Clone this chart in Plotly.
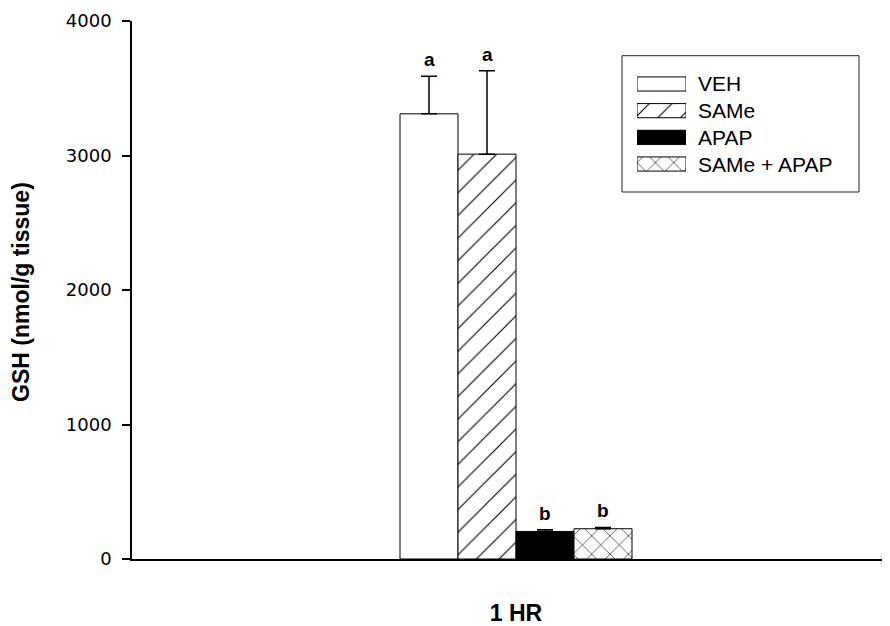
import plotly.graph_objects as go

# ---- data ----
groups = ["VEH", "SAMe", "APAP", "SAMe + APAP"]
means = [3310, 3010, 205, 225]
sems = [280, 620, 13, 10]
letters = ["a", "a", "b", "b"]
time_label = "1 HR"
y_ticks = [0, 1000, 2000, 3000, 4000]

# ---- styles ----
fills = ["white", "white", "black", "white"]
patterns = ["", "/", "", "x"]
pat_sizes = [10, 16, 10, 13]
pat_solid = [0.1, 0.07, 0.1, 0.09]

OFF = 8  # page body margin of the html page
W, H = 890 - OFF, 626 - OFF
L, R, T, B = 132 - OFF, 0, 21 - OFF, 626 - 559
pw, ph = W - L - R, H - T - B
bar_px = 58.0
group_center_px = 516 - 132

pos = list(range(len(groups)))
center = sum(pos) / len(pos)
x0 = center - group_center_px / bar_px
x1 = x0 + pw / bar_px


def px_x(px):  # page pixel -> paper
    return (px - OFF - L) / pw


def px_y(py):
    return (H - B - (py - OFF)) / ph


def make_marker(i, size):
    m = dict(color=fills[i], line=dict(color="black", width=1))
    if patterns[i]:
        m["pattern"] = dict(shape=patterns[i], fgcolor="black", bgcolor="white",
                            size=size, solidity=pat_solid[i], fillmode="replace")
    return m


fig = go.Figure()

for i, g in enumerate(groups):
    fig.add_trace(go.Bar(
        x=[pos[i]], y=[means[i]], width=1, name=g,
        marker=make_marker(i, pat_sizes[i]),
        error_y=dict(type="data", array=[sems[i]], arrayminus=[0],
                     symmetric=False, color="black", thickness=1.5, width=8),
        showlegend=False,
    ))

for p, m, s, t in zip(pos, means, sems, letters):
    fig.add_annotation(x=p, y=m + s, xref="x", yref="y", text=t,
                       showarrow=False, yanchor="bottom", yshift=4,
                       font=dict(family="Liberation Sans", size=19, color="black",
                                 weight="bold"))

# ---- legend drawn as a small overlay subplot ----
leg_sizes = [10, 16, 10, 13]
for i, g in enumerate(groups):
    fig.add_trace(go.Bar(
        x=[1], y=[i], base=0, orientation="h", width=0.53,
        xaxis="x2", yaxis="y2",
        marker=make_marker(i, leg_sizes[i]),
        showlegend=False, hoverinfo="skip",
    ))
    fig.add_annotation(x=px_x(696), y=i, xref="paper", yref="y2", text=g,
                       showarrow=False, xanchor="left", yanchor="middle",
                       font=dict(family="Liberation Sans", size=21, color="black"))

fig.add_shape(type="rect", xref="paper", yref="paper",
              x0=px_x(622), x1=px_x(859), y0=px_y(192), y1=px_y(55.7),
              line=dict(color="#222222", width=1), fillcolor="rgba(0,0,0,0)")

# y-axis title
fig.add_annotation(x=px_x(21), y=px_y(292), xref="paper", yref="paper",
                   text="GSH (nmol/g tissue)", textangle=-90, showarrow=False,
                   xanchor="center", yanchor="middle",
                   font=dict(family="Liberation Sans", size=23, color="black",
                             weight="bold"))

fig.update_layout(
    width=W, height=H,
    margin=dict(l=L, r=R, t=T, b=B, pad=0, autoexpand=False),
    paper_bgcolor="white", plot_bgcolor="white",
    barmode="overlay",
    xaxis=dict(range=[x0, x1], showgrid=False, zeroline=False, automargin=False,
               showline=True, linecolor="black", linewidth=1.5,
               ticks="", tickvals=[center], ticktext=[time_label],
               ticklabelstandoff=33,
               tickfont=dict(family="Liberation Sans", size=23, color="black",
                             weight="bold")),
    yaxis=dict(range=[0, 4000], tickvals=y_ticks, showgrid=False, zeroline=False,
               automargin=False,
               showline=True, linecolor="black", linewidth=1.5,
               ticks="outside", ticklen=8, tickwidth=1.5, tickcolor="black",
               ticklabelstandoff=7,
               tickfont=dict(family="DejaVu Sans", size=18, color="black")),
    xaxis2=dict(domain=[px_x(637), px_x(686)], range=[0, 1], anchor="y2",
                visible=False, fixedrange=True),
    yaxis2=dict(domain=[px_y(177.35), px_y(70.65)], range=[3.5, -0.5],
                anchor="x2", visible=False, fixedrange=True),
)

fig.write_html("out.html")
